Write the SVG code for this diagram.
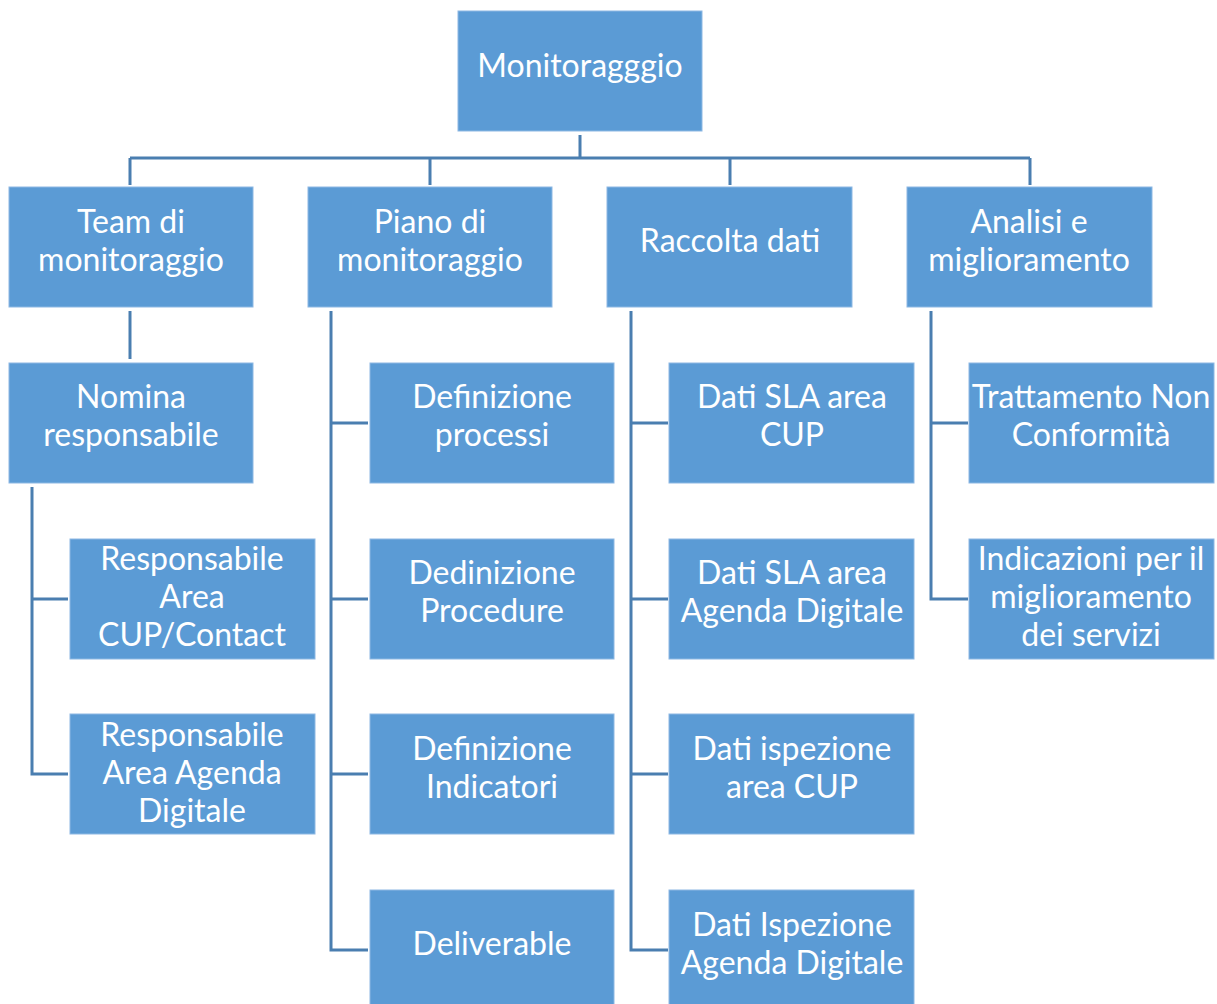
<svg xmlns="http://www.w3.org/2000/svg" width="1217" height="1004" viewBox="0 0 1217 1004">
<style>
.b{fill:#5B9BD5;stroke:#8DB8E3;stroke-width:1}
.t{font-family:Lato,"Liberation Sans",sans-serif;font-size:32px;fill:#FFFFFF;text-anchor:middle}
.c{fill:none;stroke:#4A7EB0;stroke-width:3}
</style>
<rect width="1217" height="1004" fill="#FFFFFF"/>
<g id="connectors">
<path class="c" d="M580 135V158M130 158H1030M130 158V185M430 158V185M730 158V185M1030 158V185"/>
<path class="c" d="M130 311V359"/>
<path class="c" d="M32 487V774H68M32 599H68"/>
<path class="c" d="M331 311V950H368M331 423H368M331 599H368M331 774H368"/>
<path class="c" d="M631 311V950H668M631 423H668M631 599H668M631 774H668"/>
<path class="c" d="M931 311V599H968M931 423H968"/>
</g>
<g id="n-root"><rect class="b" x="458" y="11" width="244" height="120"/><text class="t" x="580" y="77">Monitoragggio</text></g>
<g id="n-team"><rect class="b" x="9" y="187" width="244" height="120"/><text class="t" x="131" y="233">Team di</text><text class="t" x="131" y="271">monitoraggio</text></g>
<g id="n-piano"><rect class="b" x="308" y="187" width="244" height="120"/><text class="t" x="430" y="233">Piano di</text><text class="t" x="430" y="271">monitoraggio</text></g>
<g id="n-raccolta"><rect class="b" x="607" y="187" width="245" height="120"/><text class="t" x="730" y="252">Raccolta dati</text></g>
<g id="n-analisi"><rect class="b" x="907" y="187" width="245" height="120"/><text class="t" x="1029" y="233">Analisi e</text><text class="t" x="1029" y="271">miglioramento</text></g>
<g id="n-nomina"><rect class="b" x="9" y="363" width="244" height="120"/><text class="t" x="131" y="408">Nomina</text><text class="t" x="131" y="446">responsabile</text></g>
<g id="n-resp-cup"><rect class="b" x="70" y="539" width="245" height="120"/><text class="t" x="192" y="570">Responsabile</text><text class="t" x="192" y="608">Area</text><text class="t" x="192" y="646">CUP/Contact</text></g>
<g id="n-resp-agenda"><rect class="b" x="70" y="714" width="245" height="120"/><text class="t" x="192" y="746">Responsabile</text><text class="t" x="192" y="784">Area Agenda</text><text class="t" x="192" y="822">Digitale</text></g>
<g id="n-def-processi"><rect class="b" x="370" y="363" width="244" height="120"/><text class="t" x="492" y="408">Definizione</text><text class="t" x="492" y="446">processi</text></g>
<g id="n-def-procedure"><rect class="b" x="370" y="539" width="244" height="120"/><text class="t" x="492" y="584">Dedinizione</text><text class="t" x="492" y="622">Procedure</text></g>
<g id="n-def-indicatori"><rect class="b" x="370" y="714" width="244" height="120"/><text class="t" x="492" y="760">Definizione</text><text class="t" x="492" y="798">Indicatori</text></g>
<g id="n-deliverable"><rect class="b" x="370" y="890" width="244" height="120"/><text class="t" x="492" y="955">Deliverable</text></g>
<g id="n-sla-cup"><rect class="b" x="669" y="363" width="245" height="120"/><text class="t" x="792" y="408">Dati SLA area</text><text class="t" x="792" y="446">CUP</text></g>
<g id="n-sla-agenda"><rect class="b" x="669" y="539" width="245" height="120"/><text class="t" x="792" y="584">Dati SLA area</text><text class="t" x="792" y="622">Agenda Digitale</text></g>
<g id="n-isp-cup"><rect class="b" x="669" y="714" width="245" height="120"/><text class="t" x="792" y="760">Dati ispezione</text><text class="t" x="792" y="798">area CUP</text></g>
<g id="n-isp-agenda"><rect class="b" x="669" y="890" width="245" height="120"/><text class="t" x="792" y="936">Dati Ispezione</text><text class="t" x="792" y="974">Agenda Digitale</text></g>
<g id="n-nc"><rect class="b" x="969" y="363" width="245" height="120"/><text class="t" x="1091" y="408">Trattamento Non</text><text class="t" x="1091" y="446">Conformità</text></g>
<g id="n-miglior"><rect class="b" x="969" y="539" width="245" height="120"/><text class="t" x="1091" y="570">Indicazioni per il</text><text class="t" x="1091" y="608">miglioramento</text><text class="t" x="1091" y="646">dei servizi</text></g>
</svg>
